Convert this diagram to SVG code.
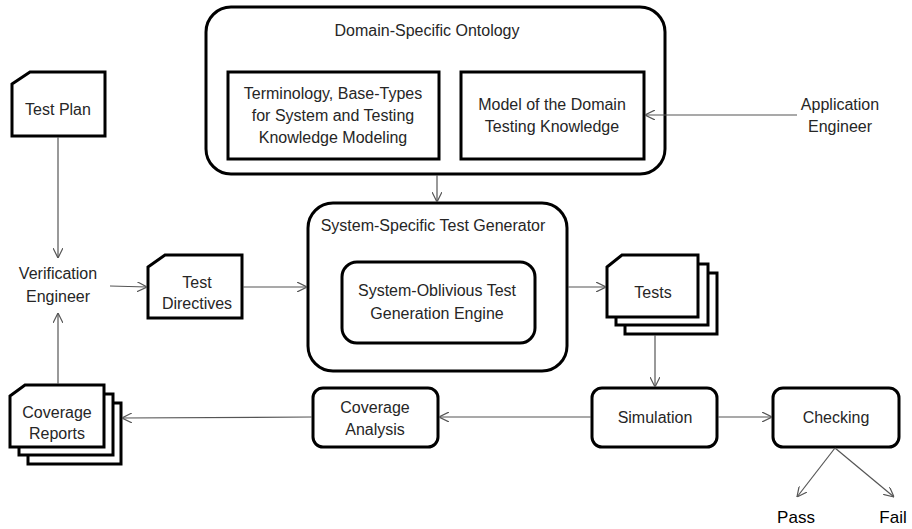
<svg xmlns="http://www.w3.org/2000/svg" width="912" height="529" viewBox="0 0 912 529">
<style>
.box{fill:#fff;stroke:#000;stroke-width:3}
.t{font-family:"Liberation Sans",Arial,sans-serif;font-size:16px;fill:#262626;text-anchor:middle}
.big{font-size:17px;fill:#000}
.c{stroke:#555;stroke-width:1.2;fill:none}
</style>
<defs>
<marker id="a" viewBox="0 0 10 10" refX="10" refY="5" markerWidth="10" markerHeight="10" markerUnits="userSpaceOnUse" orient="auto">
<path d="M0,0 L10,5 L0,10" fill="none" stroke="#555" stroke-width="1.2"/>
</marker>
</defs>
<rect width="912" height="529" fill="#fff"/>

<g id="ontology">
<rect class="box" x="206" y="7" width="459" height="167" rx="25"/>
<text class="t" x="427" y="36">Domain-Specific Ontology</text>
</g>
<g id="terminology">
<rect class="box" x="228" y="72" width="211" height="87"/>
<text class="t" x="333" y="99">Terminology, Base-Types</text>
<text class="t" x="333" y="121">for System and Testing</text>
<text class="t" x="333" y="143">Knowledge Modeling</text>
</g>
<g id="model">
<rect class="box" x="461" y="72" width="183" height="87"/>
<text class="t" x="552" y="110">Model of the Domain</text>
<text class="t" x="552" y="132">Testing Knowledge</text>
</g>
<g id="app-engineer">
<text class="t" x="840" y="110">Application</text>
<text class="t" x="840" y="132">Engineer</text>
</g>
<g id="test-plan">
<path class="box" d="M12,84 L30,72 L105,72 L105,136 L12,136 Z"/>
<text class="t" x="58" y="115">Test Plan</text>
</g>
<g id="verif-engineer">
<text class="t" x="58" y="279">Verification</text>
<text class="t" x="58" y="302">Engineer</text>
</g>
<g id="test-directives">
<path class="box" d="M148,267 L165,255 L242,255 L242,318 L148,318 Z"/>
<text class="t" x="197" y="288">Test</text>
<text class="t" x="197" y="309">Directives</text>
</g>
<g id="generator">
<rect class="box" x="308" y="203" width="259" height="168" rx="25"/>
<text class="t" x="433" y="231">System-Specific Test Generator</text>
</g>
<g id="engine">
<rect class="box" x="342" y="262" width="193" height="81" rx="15"/>
<text class="t" x="437" y="296">System-Oblivious Test</text>
<text class="t" x="437" y="319">Generation Engine</text>
</g>
<g id="tests">
<rect class="box" x="625" y="273" width="92" height="61"/>
<rect class="box" x="616" y="264" width="92" height="61"/>
<path class="box" d="M607,267 L622,255 L698,255 L698,317 L607,317 Z"/>
<text class="t" x="653" y="298">Tests</text>
</g>
<g id="simulation">
<rect class="box" x="592" y="388" width="125" height="59" rx="10"/>
<text class="t" x="655" y="423">Simulation</text>
</g>
<g id="checking">
<rect class="box" x="773" y="388" width="126" height="59" rx="10"/>
<text class="t" x="836" y="423">Checking</text>
</g>
<g id="coverage-analysis">
<rect class="box" x="313" y="388" width="125" height="59" rx="10"/>
<text class="t" x="375" y="413">Coverage</text>
<text class="t" x="375" y="435">Analysis</text>
</g>
<g id="coverage-reports">
<rect class="box" x="28" y="403" width="93" height="61"/>
<rect class="box" x="19" y="394" width="94" height="61"/>
<path class="box" d="M10,396 L25,385 L104,385 L104,447 L10,447 Z"/>
<text class="t" x="57" y="418">Coverage</text>
<text class="t" x="57" y="439">Reports</text>
</g>
<g id="pass"><text class="t big" x="796" y="523">Pass</text></g>
<g id="fail"><text class="t big" x="893" y="523">Fail</text></g>

<g id="connectors">
<line class="c" x1="797" y1="115" x2="645" y2="115" marker-end="url(#a)"/>
<line class="c" x1="437" y1="175" x2="437" y2="202" marker-end="url(#a)"/>
<line class="c" x1="58" y1="137" x2="58" y2="258" marker-end="url(#a)"/>
<line class="c" x1="110" y1="286" x2="147" y2="287" marker-end="url(#a)"/>
<line class="c" x1="58" y1="384" x2="58" y2="313" marker-end="url(#a)"/>
<line class="c" x1="243" y1="287" x2="307" y2="287" marker-end="url(#a)"/>
<line class="c" x1="568" y1="287" x2="606" y2="287" marker-end="url(#a)"/>
<line class="c" x1="655" y1="335" x2="655" y2="387" marker-end="url(#a)"/>
<line class="c" x1="718" y1="417" x2="772" y2="417" marker-end="url(#a)"/>
<line class="c" x1="591" y1="417" x2="439" y2="417" marker-end="url(#a)"/>
<line class="c" x1="312" y1="417" x2="122" y2="418" marker-end="url(#a)"/>
<line class="c" x1="835" y1="448" x2="797" y2="497" marker-end="url(#a)"/>
<line class="c" x1="835" y1="448" x2="894" y2="497" marker-end="url(#a)"/>
</g>
</svg>
